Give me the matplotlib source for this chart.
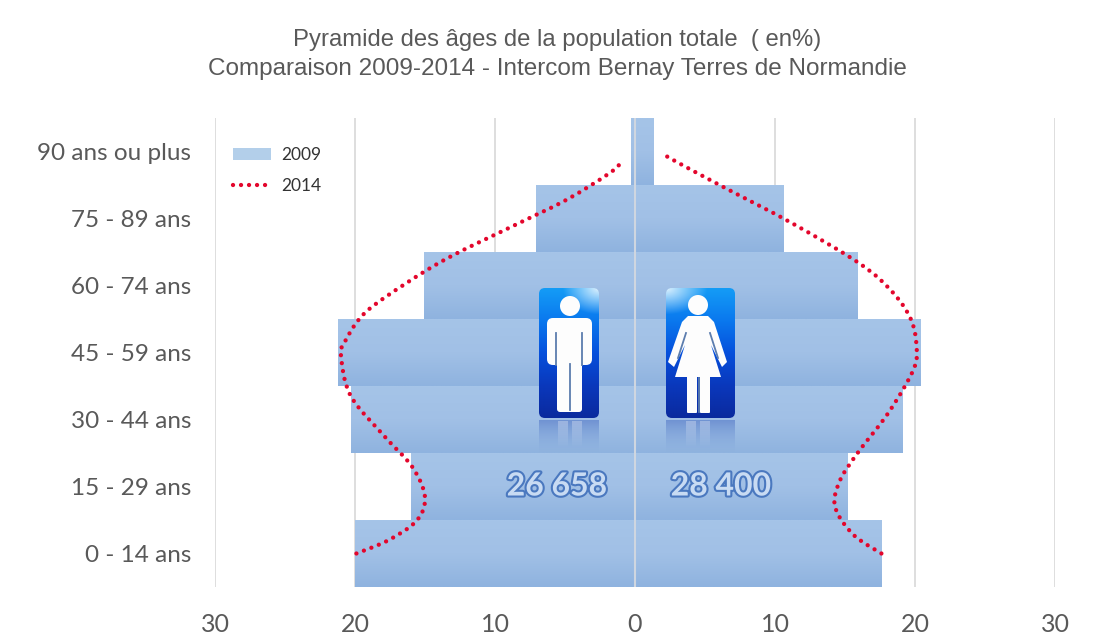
'''Pyramide des ages 2009-2014, Intercom Bernay Terres de Normandie'''

import numpy as np
import matplotlib
matplotlib.use('Agg')
import matplotlib.pyplot as plt
import matplotlib.patheffects as pe
from matplotlib.colors import to_rgba
from matplotlib.lines import Line2D
from matplotlib.patches import Patch, PathPatch, FancyBboxPatch, Circle, Polygon
from matplotlib.path import Path

tranches = ['0 - 14 ans', '15 - 29 ans', '30 - 44 ans', '45 - 59 ans',
            '60 - 74 ans', '75 - 89 ans', '90 ans ou plus']
hommes_2009 = [20.0, 16.0, 20.3, 21.2, 15.1, 7.1, 0.3]
femmes_2009 = [17.6, 15.2, 19.1, 20.4, 15.9, 10.6, 1.3]
# courbes 2014 : valeur (%) et position en rang de tranche
hommes_2014 = [19.9, 17.6, 15.6, 15.0, 15.9, 17.9, 20.3, 21.0, 20.7, 19.3, 16.3, 13.1, 8.1, 4.8, 1.6, 0.9]
hommes_2014_rang = [0.0, 0.20, 0.49, 0.84, 1.29, 1.75, 2.35, 2.95, 3.17, 3.59, 4.04, 4.44, 4.95, 5.29, 5.71, 5.89]
femmes_2014 = [17.6, 15.6, 14.3, 14.6, 15.9, 18.1, 19.9, 20.1, 19.7, 18.4, 16.1, 11.3, 6.4, 3.1, 2.1]
femmes_2014_rang = [0.0, 0.28, 0.69, 1.07, 1.50, 2.10, 2.75, 3.11, 3.50, 3.90, 4.32, 4.92, 5.46, 5.83, 5.95]
ticks = [-30, -20, -10, 0, 10, 20, 30]
effectif_hommes = '26 658'
effectif_femmes = '28 400'

W, H = 1106, 641
BAR_STOPS = ['#a5c4e8', '#a1c0e6', '#8fb3df']
GREY = '#595959'
RED = '#e3062c'
DOTS = (0, (0.01, 1.85))


def smooth_path(x, y):
    '''Courbe lissee (Bezier passant par chaque point)'''
    pts = np.column_stack([np.array(x, float), np.array(y, float)])
    verts = [pts[0]]
    codes = [Path.MOVETO]
    for i in range(len(pts) - 1):
        p0 = pts[max(i - 1, 0)]
        p1, p2 = pts[i], pts[i + 1]
        p3 = pts[min(i + 2, len(pts) - 1)]
        verts += [p1 + (p2 - p0) / 6, p2 - (p3 - p1) / 6, p2]
        codes += [Path.CURVE4] * 3
    return Path(verts, codes)


def ramp(colors, n=64):
    '''Degrade vertical RGBA a partir d'une liste de couleurs (haut vers bas)'''
    rgba = np.array([to_rgba(c) for c in colors])
    t = np.linspace(0, len(colors) - 1, n)
    img = np.stack([np.interp(t, np.arange(len(colors)), rgba[:, k]) for k in range(4)], axis=1)
    return img[:, None, :]


plt.rcParams['font.family'] = ['Lato', 'DejaVu Sans']
fig = plt.figure(figsize=(W / 100, H / 100), dpi=100, facecolor='white')
ax = fig.add_axes([215 / W, 1 - 587 / H, 840 / W, 469 / H])

y = np.arange(len(tranches))
ax.set_facecolor('none')
for s in ax.spines.values():
    s.set_visible(False)
ax.set_axisbelow(True)
ax.grid(axis='x', color='#dedede', linewidth=1.4)
ax.set_xticks(ticks)
ax.set_xticklabels([str(abs(t)) for t in ticks], fontsize=18, color=GREY)
ax.set_yticks(y)
ax.set_yticklabels(tranches, fontsize=17.5, color=GREY)
ax.tick_params(length=0)
ax.tick_params(axis='x', pad=19)
ax.tick_params(axis='y', pad=17)

# barres avec degrade dans chaque tranche
bars = list(ax.barh(y, [-v for v in hommes_2009], height=1.0, color=BAR_STOPS[0], zorder=2))
bars += list(ax.barh(y, femmes_2009, height=1.0, color=BAR_STOPS[0], zorder=2))
for b in bars:
    x0, x1 = sorted([b.get_x(), b.get_x() + b.get_width()])
    ax.imshow(ramp(BAR_STOPS), extent=(x0, x1, b.get_y(), b.get_y() + b.get_height()),
              aspect='auto', zorder=2.1, interpolation='bilinear')
ax.set_xlim(-30, 30)
ax.set_ylim(-0.5, 6.5)
ax.axvline(0, color='#cfd6e0', linewidth=1.5, zorder=3)

for xs, rangs in (([-v for v in hommes_2014], hommes_2014_rang), (femmes_2014, femmes_2014_rang)):
    ax.add_patch(PathPatch(smooth_path(xs, rangs), fill=False, edgecolor=RED,
                           linewidth=3.1, linestyle=DOTS,
                           capstyle='round', zorder=4))

handles = [Patch(facecolor='#b3cfea', edgecolor='none', label='2009'),
           Line2D([0], [0], color=RED, linewidth=3.1, linestyle=DOTS,
                  dash_capstyle='round', label='2014')]
leg = ax.legend(handles=handles, loc='upper left', bbox_to_anchor=(0.013, 0.953),
                frameon=False, fontsize=12.5, labelspacing=0.85, handlelength=2.2,
                handleheight=0.75, handletextpad=0.6, borderaxespad=0)
for t in leg.get_texts():
    t.set_color('#333333')

fig.text(557.5 / W, 1 - 40 / H, 'Pyramide des âges de la population totale  ( en%)',
         ha='center', va='center', fontsize=17.2, color=GREY, family='Liberation Sans')
fig.text(557 / W, 1 - 69 / H, 'Comparaison 2009-2014 - Intercom Bernay Terres de Normandie',
         ha='center', va='center', fontsize=17.45, color=GREY, family='Liberation Sans')

# icones, dans un calque en pixels
ov = fig.add_axes([0, 0, 1, 1], facecolor='none')
ov.set_axis_off()


def icon_box(x0, x1, glare_right):
    box = FancyBboxPatch((x0 + 4, 292), x1 - x0 - 8, 122, boxstyle='round,pad=4,rounding_size=6',
                         transform=ov.transData, facecolor='none', edgecolor='none')
    ov.add_patch(box)
    base = ramp(['#149cf6', '#0a78ee', '#0650dc', '#0a38bc', '#0a2a9e'], n=130)
    img = np.repeat(base, 64, axis=1)
    # reflet clair dans un coin haut
    u = np.linspace(0, 1, 64) if glare_right else np.linspace(1, 0, 64)
    v = np.linspace(0, 1, 130)
    glare = 0.85 * np.clip(1 - np.hypot((1 - u[None, :]) / 0.6, v[:, None] / 0.2), 0, 1)[:, :, None]
    img[:, :, :3] = img[:, :, :3] * (1 - glare) + glare
    im = ov.imshow(img, extent=(x0, x1, 418, 288), aspect='auto', zorder=5,
                   interpolation='bilinear')
    im.set_clip_path(box)
    # reflet sous l'icone
    ov.imshow(ramp([(0.25, 0.40, 0.75, 0.5), (0.45, 0.60, 0.85, 0.0)]),
              extent=(x0, x1, 452, 420), aspect='auto', zorder=5, interpolation='bilinear')


def legs_reflection(centers):
    for cx in centers:
        ov.imshow(ramp([(1, 1, 1, 0.3), (1, 1, 1, 0.0)]), extent=(cx - 5, cx + 5, 448, 421),
                  aspect='auto', zorder=5.1, interpolation='bilinear')


icon_box(539, 599, True)
icon_box(666, 735, False)
legs_reflection([563, 577, 691, 705])

white = dict(facecolor='#fdfdfd', edgecolor='none', zorder=6)
gap = dict(color='#5c7dae', linewidth=1.3, zorder=7)
# homme
ov.add_patch(Circle((570, 306), 10, **white))
ov.add_patch(FancyBboxPatch((550, 321), 39, 41, boxstyle='round,pad=3,rounding_size=6', **white))
ov.add_patch(FancyBboxPatch((559, 350), 21, 60, boxstyle='round,pad=2,rounding_size=3', **white))
ov.plot([556, 556], [333, 365], **gap)
ov.plot([582, 582], [333, 365], **gap)
ov.plot([569.5, 569.5], [364, 410], **gap)
# femme
ov.add_patch(Circle((698, 305), 10, **white))
ov.add_patch(Polygon([(688, 316), (708, 316), (714, 322), (727, 362), (722, 367), (711, 345),
                      (721, 377), (675, 377), (685, 345), (674, 367), (668, 362), (682, 322)],
                     closed=True, **white))
ov.add_patch(FancyBboxPatch((688, 375), 8, 37, boxstyle='round,pad=1,rounding_size=1', **white))
ov.add_patch(FancyBboxPatch((701, 375), 8, 37, boxstyle='round,pad=1,rounding_size=1', **white))
ov.plot([686, 678], [333, 358], **gap)
ov.plot([710, 718], [333, 358], **gap)
ov.plot([698.5, 698.5], [378, 412], **gap)
ov.set_xlim(0, W)
ov.set_ylim(H, 0)

for label, cx in ((effectif_hommes, 557), (effectif_femmes, 721)):
    ov.text(cx, 486, label, ha='center', va='center', fontsize=23, fontweight='bold',
            color='#c8dbf3', zorder=8, family='Lato',
            path_effects=[pe.withStroke(linewidth=3.0, foreground='#4a78bf')])

fig.savefig('out.png', dpi=100)
